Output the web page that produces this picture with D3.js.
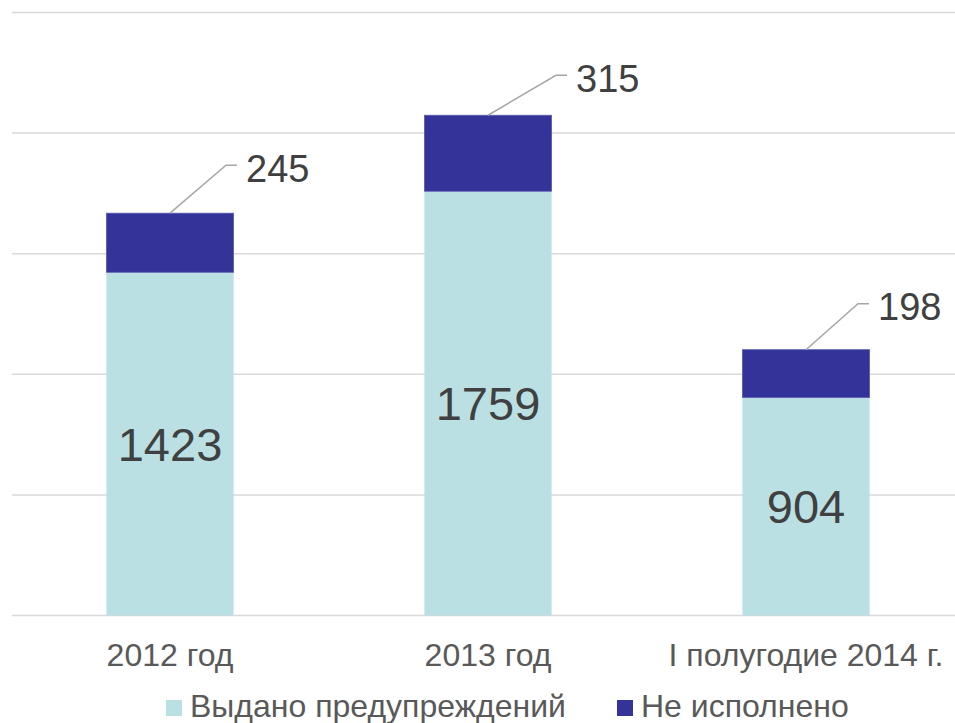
<!DOCTYPE html>
<html>
<head>
	<meta charset="utf-8">
	<title>warnings chart</title>
	<script src="https://cdn.jsdelivr.net/npm/d3@7"></script>
</head>
<style type="text/css">
body { margin: 0; background: #fff; }
text { font-family: "Liberation Sans", Arial, sans-serif; }
</style>
<body>
</body>
</html>
<script type="text/javascript">
	var w = 955;
	var h = 723;

	var categories = ["2012 год", "2013 год", "I полугодие 2014 г."];
	var issued = [1423, 1759, 904];
	var notDone = [245, 315, 198];
	var seriesNames = ["Выдано предупреждений", "Не исполнено"];
	var yTicks = [0, 500, 1000, 1500, 2000, 2500];

	var colors = ["#bbe0e3", "#333399"];
	// where the callout labels were dragged to (dx, dy from bar top)
	var labelOffsets = [[56, -48], [68, -40], [52, -46]];

	var svg = d3.select("body").append("svg").attr("width", w).attr("height", h);

	var x = d3.scaleBand()
				.domain(categories)
				.range([11, 965])
				.paddingInner(0.6)
				.paddingOuter(0.3);
	var y = d3.scaleLinear()
				.domain([0, 2500])
				.range([615.5, 12.5]);

	// gridlines
	svg.selectAll("line.grid").data(yTicks).enter().append("line")
		.attr("class", "grid")
		.attr("x1", 12).attr("x2", w)
		.attr("y1", function(d){ return y(d); })
		.attr("y2", function(d){ return y(d); })
		.attr("stroke", "#d9d9d9")
		.attr("stroke-width", 1.5);

	// bottom segment
	svg.selectAll("rect.issued").data(issued).enter().append("rect")
		.attr("class", "issued")
		.attr("x", function(d,i){ return x(categories[i]); })
		.attr("width", x.bandwidth())
		.attr("y", function(d){ return y(d); })
		.attr("height", function(d){ return y(0) - y(d); })
		.attr("fill", colors[0]);

	// top segment
	svg.selectAll("rect.notdone").data(notDone).enter().append("rect")
		.attr("class", "notdone")
		.attr("x", function(d,i){ return x(categories[i]); })
		.attr("width", x.bandwidth())
		.attr("y", function(d,i){ return y(issued[i] + d); })
		.attr("height", function(d,i){ return y(issued[i]) - y(issued[i] + d); })
		.attr("fill", colors[1])
		.attr("stroke", "#5a5ab0")
		.attr("stroke-width", 0.8);

	// labels inside bars
	svg.selectAll("text.inner").data(issued).enter().append("text")
		.attr("class", "inner")
		.attr("x", function(d,i){ return x(categories[i]) + x.bandwidth()/2; })
		.attr("y", function(d){ return y(d/2); })
		.attr("dy", "0.36em")
		.attr("text-anchor", "middle")
		.attr("font-size", 47)
		.attr("fill", "#404040")
		.text(function(d){ return d; });

	// leader lines + top labels
	var cx = function(i){ return x(categories[i]) + x.bandwidth()/2; };
	var topY = function(i){ return y(issued[i] + notDone[i]); };
	svg.selectAll("path.leader").data(notDone).enter().append("path")
		.attr("class", "leader")
		.attr("d", function(d,i){
			var x0 = cx(i), y0 = topY(i), o = labelOffsets[i];
			return "M" + x0 + "," + y0 + "L" + (x0 + o[0]) + "," + (y0 + o[1]) + "L" + (x0 + o[0] + 11) + "," + (y0 + o[1]);
		})
		.attr("fill", "none")
		.attr("stroke", "#a6a6a6")
		.attr("stroke-width", 1.5);

	svg.selectAll("text.outer").data(notDone).enter().append("text")
		.attr("class", "outer")
		.attr("x", function(d,i){ return cx(i) + labelOffsets[i][0] + 20; })
		.attr("y", function(d,i){ return topY(i) + labelOffsets[i][1] + 3; })
		.attr("dy", "0.36em")
		.attr("font-size", 38)
		.attr("fill", "#404040")
		.text(function(d){ return d; });

	// category axis labels
	svg.selectAll("text.cat").data(categories).enter().append("text")
		.attr("class", "cat")
		.attr("x", function(d){ return x(d) + x.bandwidth()/2; })
		.attr("y", 666)
		.attr("text-anchor", "middle")
		.attr("font-size", 32)
		.attr("fill", "#595959")
		.text(function(d){ return d; });

	// legend
	var legendX = [166, 617];
	var legend = svg.selectAll("g.legend").data(seriesNames).enter().append("g")
		.attr("class", "legend")
		.attr("transform", function(d,i){ return "translate(" + legendX[i] + ",708)"; });
	legend.append("rect")
		.attr("x", 0).attr("y", -8)
		.attr("width", 16).attr("height", 16)
		.attr("fill", function(d,i){ return colors[i]; });
	legend.append("text")
		.attr("x", 24)
		.attr("y", 9)
		.attr("font-size", 32)
		.attr("fill", "#595959")
		.text(function(d){ return d; });
</script>
